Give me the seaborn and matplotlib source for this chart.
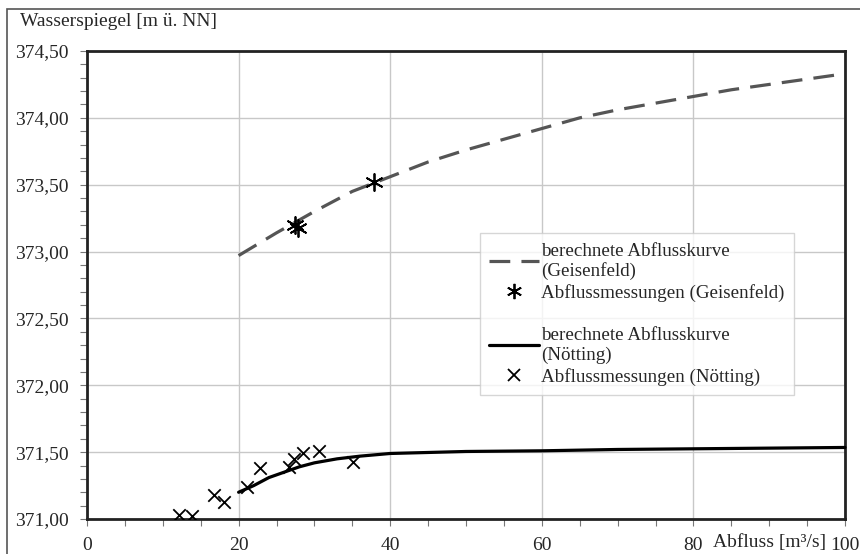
import numpy as np
import pandas as pd
import matplotlib
matplotlib.use("Agg")
import matplotlib.pyplot as plt
import seaborn as sns
from matplotlib.ticker import MultipleLocator, FuncFormatter
from matplotlib.lines import Line2D
from matplotlib.patches import Rectangle

# berechnete Abflusskurve Geisenfeld
geis_q = [20, 25, 30, 35, 40, 45, 50, 55, 60, 65, 70, 75, 80, 85, 90, 95, 100]
geis_w = [372.97, 373.14, 373.30, 373.45, 373.56, 373.67, 373.76, 373.84, 373.92,
          374.00, 374.06, 374.11, 374.16, 374.21, 374.25, 374.29, 374.33]
# Abflussmessungen Geisenfeld
geis_mq = [27.5, 27.8, 37.9]
geis_mw = [373.20, 373.18, 373.52]

# berechnete Abflusskurve Nötting
noet_q = [20, 22, 24, 26, 28, 30, 33, 36, 40, 50, 60, 70, 80, 90, 100]
noet_w = [371.20, 371.25, 371.31, 371.35, 371.39, 371.42, 371.45, 371.47, 371.49,
          371.505, 371.51, 371.52, 371.525, 371.53, 371.535]
# Abflussmessungen Nötting
noet_mq = [12.2, 13.9, 16.7, 18.1, 21.1, 22.8, 26.7, 27.3, 28.5, 30.6, 35.1]
noet_mw = [371.03, 371.02, 371.18, 371.13, 371.24, 371.38, 371.39, 371.45, 371.49, 371.51, 371.43]

sns.set_style("ticks")
plt.rcParams["font.family"] = ["Liberation Serif", "DejaVu Serif"]
plt.rcParams["font.size"] = 14

fig = plt.figure(figsize=(8.6, 5.54), dpi=100)
ax = fig.add_axes([87 / 860, 1 - 519 / 554, 758 / 860, 468 / 554])

df_g = pd.DataFrame({"q": geis_q, "w": geis_w})
df_n = pd.DataFrame({"q": noet_q, "w": noet_w})
sns.lineplot(data=df_g, x="q", y="w", ax=ax, color="#555555", lw=2.3,
             dashes=False, zorder=3, clip_on=False)
ax.lines[-1].set_dashes([6.5, 3.5])
sns.lineplot(data=df_n, x="q", y="w", ax=ax, color="black", lw=2.3, zorder=3, clip_on=False)
sns.scatterplot(x=geis_mq, y=geis_mw, ax=ax, marker=(6, 2, 0), s=150, color="black",
                linewidth=1.3, zorder=4)
sns.scatterplot(x=noet_mq, y=noet_mw, ax=ax, marker="x", s=80, color="black",
                linewidth=1.3, zorder=4)

ax.set_xlim(0, 100)
ax.set_ylim(371.0, 374.5)
ax.xaxis.set_major_locator(MultipleLocator(20))
ax.xaxis.set_minor_locator(MultipleLocator(5))
ax.yaxis.set_major_locator(MultipleLocator(0.5))
ax.yaxis.set_minor_locator(MultipleLocator(0.1))
ax.yaxis.set_major_formatter(FuncFormatter(lambda v, p: f"{v:.2f}".replace(".", ",")))
ax.grid(True, which="major", color="#c8c8c8", lw=1)
ax.tick_params(which="both", direction="out", length=5, width=0.8, color="#777777")
ax.tick_params(axis="x", pad=8, labelsize=14)
ax.tick_params(axis="y", pad=8, labelsize=14)
for s in ax.spines.values():
    s.set_color("#222222")
    s.set_linewidth(2)
ax.set_xlabel("")
ax.set_ylabel("")

fig.text(20 / 860, 1 - 22 / 554, "Wasserspiegel [m ü. NN]", ha="left", va="center", fontsize=14)
fig.text(713 / 860, 1 - 543 / 554, "Abfluss [m³/s]", ha="left", va="center", fontsize=14)

fig.patches.append(Rectangle((7 / 860, -0.05), 1.0, 1 - 9 / 554 + 0.05, transform=fig.transFigure,
                             fill=False, edgecolor="#555555", lw=1.2))

handles = [
    Line2D([], [], color="#555555", lw=2.3, dashes=[6.5, 3.5]),
    Line2D([], [], color="black", marker=(6, 2, 0), ms=11, ls="none", mew=1.3),
    Line2D([], [], color="none"),
    Line2D([], [], color="black", lw=2.3),
    Line2D([], [], color="black", marker="x", ms=8, ls="none", mew=1.3),
]
labels = [
    "berechnete Abflusskurve\n(Geisenfeld)",
    "Abflussmessungen (Geisenfeld)",
    "",
    "berechnete Abflusskurve\n(Nötting)",
    "Abflussmessungen (Nötting)",
]
leg = ax.legend(handles, labels, loc="upper left", bbox_to_anchor=(0.518, 0.611),
                fontsize=13.7, frameon=True, fancybox=False, edgecolor="#cccccc",
                handlelength=2.6, handletextpad=0.15, labelspacing=0.2,
                borderpad=0.5, borderaxespad=0)
leg.get_frame().set_linewidth(1)

fig.savefig("out.png", dpi=100)
